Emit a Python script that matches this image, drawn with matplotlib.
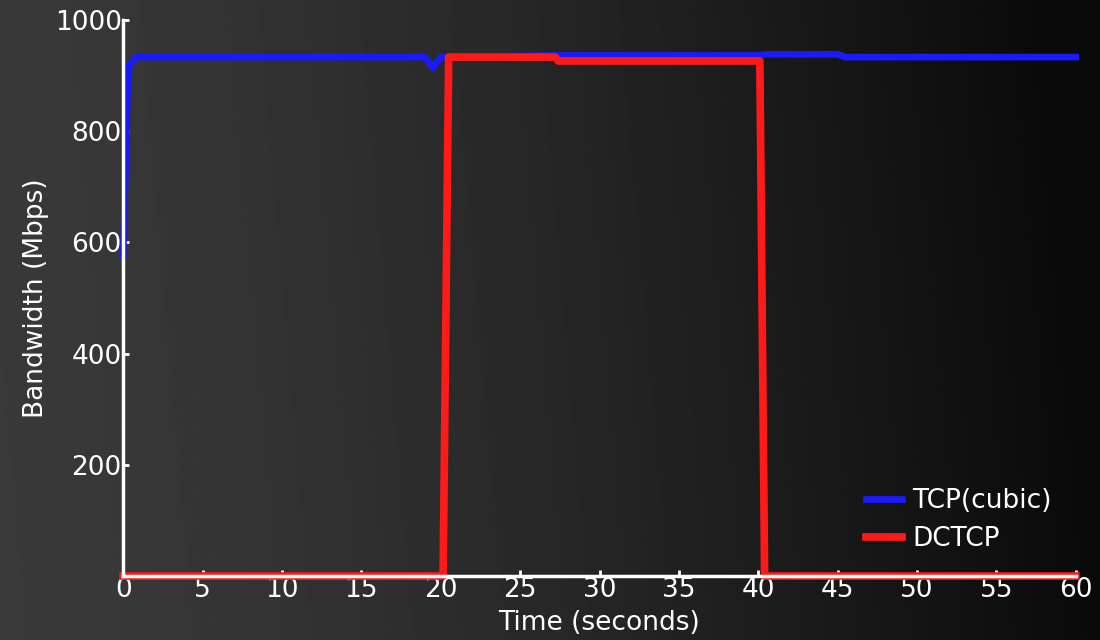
import numpy as np
import matplotlib
matplotlib.use("Agg")
import matplotlib.pyplot as plt

# bandwidth samples
tcp_t = [0, 0.3, 0.8, 19.0, 19.5, 20.0, 27.3, 40.0, 40.5, 45.0, 45.5, 60]
tcp_bw = [575, 915, 933, 933, 914, 933, 936, 936, 938, 938, 933, 933]

dctcp_t = [0, 20.15, 20.5, 27.2, 27.4, 40.1, 40.4, 60]
dctcp_bw = [0, 0, 933, 933, 926, 926, 0, 0]

xticks = list(range(0, 61, 5))
yticks = [200, 400, 600, 800, 1000]

plt.rcParams['font.family'] = ['DejaVu Sans']

fig = plt.figure(figsize=(11, 6.4), dpi=100)

# background: grey on the left fading to black on the right
bg = fig.add_axes([0, 0, 1, 1], zorder=-1)
xx = np.linspace(0, 1, 400)
yy = np.linspace(0, 1, 100)
X, Y = np.meshgrid(xx, yy)
grey = (58 - 48 * np.clip(X + 0.05 * Y, 0, 1) ** 1.4) / 255.0
bg.imshow(grey, cmap='gray', vmin=0, vmax=1, aspect='auto', extent=[0, 1, 0, 1], origin='lower')
bg.axis('off')

ax = fig.add_axes([0.112, 0.1, 0.866, 0.869])
ax.set_facecolor('none')

ax.plot(tcp_t, tcp_bw, color='#1a1aff', lw=4.8, label='TCP(cubic)', clip_on=False, solid_joinstyle='round')
ax.plot(dctcp_t, dctcp_bw, color='#ff1a1a', lw=5.5, label='DCTCP', clip_on=False, solid_joinstyle='round')

ax.set_xlim(0, 60)
ax.set_ylim(0, 1000)
ax.set_xticks(xticks)
ax.set_yticks(yticks)

for s in ['top', 'right']:
    ax.spines[s].set_visible(False)
for s in ['left', 'bottom']:
    ax.spines[s].set_color('white')
    ax.spines[s].set_linewidth(2.5)
    ax.spines[s].set_zorder(3)

ax.tick_params(colors='white', labelsize=19, direction='in', length=4, width=2, pad=1)
ax.set_xlabel('Time (seconds)', color='white', fontsize=19, labelpad=5)
ax.set_ylabel('Bandwidth (Mbps)', color='white', fontsize=19, labelpad=4)

leg = ax.legend(loc='lower right', bbox_to_anchor=(1.0, 0.0), frameon=False, fontsize=19,
                handlelength=1.35, handletextpad=0.4, labelspacing=0.45)
for txt in leg.get_texts():
    txt.set_color('white')

fig.savefig('out.png', dpi=100)
